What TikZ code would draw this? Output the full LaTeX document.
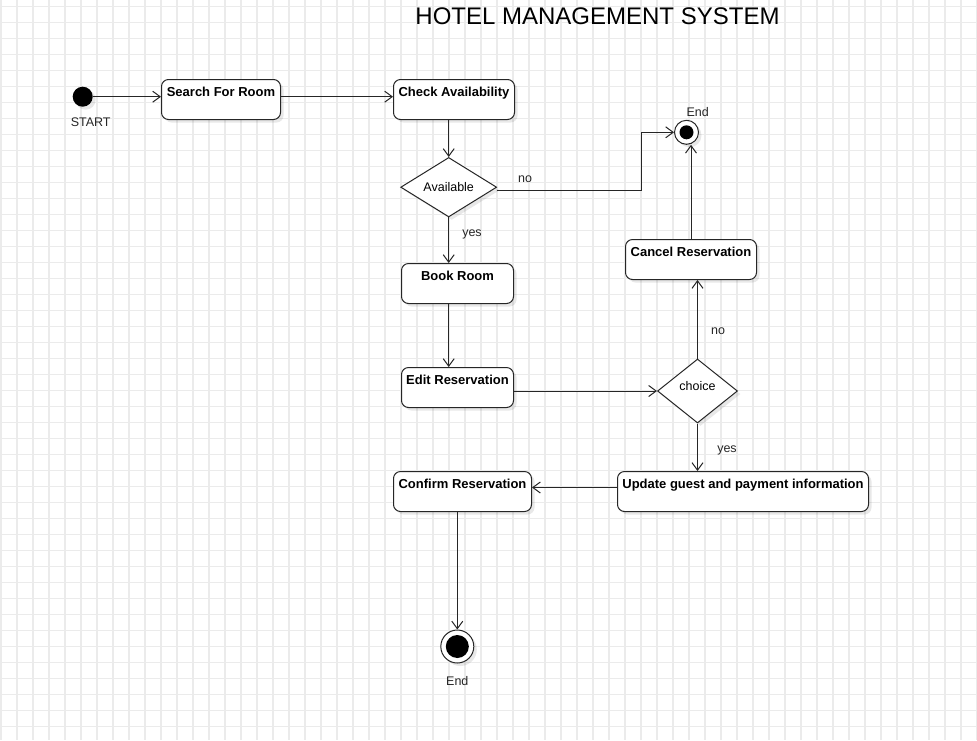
\documentclass[tikz,border=0pt]{standalone}
\usepackage{fontspec}
\setmainfont{Liberation Sans}
\usetikzlibrary{arrows.meta,shapes.geometric,shadows}
\begin{document}
\begin{tikzpicture}[x=1pt,y=-1pt,
  gridline/.style={draw=black!8, line width=1.2pt},
  shad/.style={drop shadow={shadow xshift=3pt,shadow yshift=-3pt,fill=black,opacity=0.09}},
  actbox/.style={draw=black!85, line width=1pt, rounded corners=7pt, fill=white, shad,
    minimum height=40pt, inner sep=0pt, anchor=north west,
    font=\fontsize{13}{15}\selectfont\bfseries, text height=9.5pt, text depth=15.5pt},
  decision/.style={diamond, draw=black!85, line width=1pt, fill=white, shad, inner sep=0pt,
    font=\fontsize{12.5}{14}\selectfont, text height=9pt},
  lbl/.style={font=\fontsize{12.5}{14}\selectfont, anchor=base, inner sep=0pt, text=black!85},
  conn/.style={draw=black!85, line width=1pt, -{Straight Barb[length=7.5pt,width=11pt,line width=1pt]}},
  finalnode/.style={circle, draw=black!85, line width=1pt, fill=white, shad, inner sep=0pt}
]
\useasboundingbox (0,0) rectangle (977,740);
\fill[white] (0,0) rectangle (977,740);
\foreach \i in {0,...,61} \draw[gridline] (1+16*\i,0) -- (1+16*\i,740);
\foreach \j in {0,...,46} \draw[gridline] (0,6.5+16*\j) -- (977,6.5+16*\j);

\node[lbl, font=\fontsize{24}{28}\selectfont, text=black] (title) at (597.5,24) {HOTEL MANAGEMENT SYSTEM};

\node[circle, fill=black, minimum size=20pt, inner sep=0pt, shad] (start) at (82.7,96.7) {};
\node[lbl] (startlbl) at (90.7,126.5) {START};
\node[actbox, minimum width=119pt] (search) at (161,79) {Search For Room};
\node[actbox, minimum width=121pt] (check) at (393,79) {Check Availability};
\node[decision, minimum width=96pt, minimum height=56pt, text depth=0pt] (avail) at (448.7,187.2) {Available};
\node[actbox, minimum width=112pt] (book) at (401,263) {Book Room};
\node[actbox, minimum width=112pt] (edit) at (401,367) {Edit Reservation};
\node[decision, minimum width=80pt, minimum height=64pt, text depth=11pt] (choice) at (697.5,391) {choice};
\node[actbox, minimum width=131pt] (cancel) at (625,239) {Cancel Reservation};
\node[actbox, minimum width=251pt] (update) at (617,471) {Update guest and payment information};
\node[actbox, minimum width=138pt] (confirm) at (393,471) {Confirm Reservation};
\node[finalnode, minimum size=24pt, path picture={\fill[black] (path picture bounding box.center) circle (7pt);}] (endtop) at (686.5,132.3) {};
\node[lbl] (endtoplbl) at (697.7,116) {End};
\node[finalnode, minimum size=33pt, path picture={\fill[black] (path picture bounding box.center) circle (11.5pt);}] (endbot) at (457.3,646.5) {};
\node[lbl] (endbotlbl) at (457.3,685.7) {End};

\draw[conn] (start.east) -- (start.east -| search.west);
\draw[conn] (search.east |- start.east) -- (check.west |- start.east);
\draw[conn] (avail.north |- check.south) -- (avail.north);
\draw[conn] ([yshift=-3pt]avail.east) -- ++(144,0) |- (endtop.west);
\node[lbl] (nolbl1) at (525,182.5) {no};
\draw[conn] (avail.south) -- (avail.south |- book.north);
\node[lbl] (yeslbl1) at (472,236.5) {yes};
\draw[conn] (avail.south |- book.south) -- (avail.south |- edit.north);
\draw[conn] (edit.east |- choice.west) -- (choice.west);
\draw[conn] (choice.north) -- (choice.north |- cancel.south);
\node[lbl] (nolbl2) at (718,334.5) {no};
\draw[conn] (cancel.north) -- (cancel.north |- endtop.south);
\draw[conn] (choice.south) -- (choice.south |- update.north);
\node[lbl] (yeslbl2) at (727,452.5) {yes};
\draw[conn] ([yshift=4pt]update.west) -- ([yshift=4pt]confirm.east);
\draw[conn] (endbot.north |- confirm.south) -- (endbot.north);
\end{tikzpicture}
\end{document}
